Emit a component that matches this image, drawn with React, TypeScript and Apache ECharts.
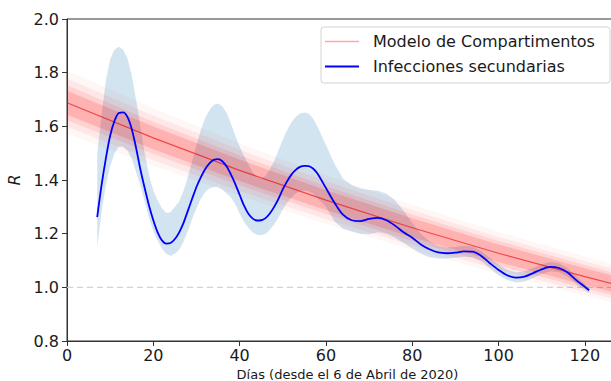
import React, { useEffect, useRef } from "react";
import * as echarts from "echarts";

// ---- Data ----
const days = [
  7, 8, 9, 10, 11, 12, 13, 14, 15, 16, 17, 18, 19, 20, 21, 22, 23, 24, 25, 26,
  27, 28, 29, 30, 31, 32, 33, 34, 35, 36, 37, 38, 39, 40, 41, 42, 43, 44, 45, 46,
  47, 48, 49, 50, 51, 52, 53, 54, 55, 56, 57, 58,
  60, 62, 64, 66, 68, 70, 72, 74, 76, 78, 80, 82, 84, 86, 88, 90, 92, 94, 96, 98,
  100, 102, 104, 106, 108, 110, 112, 114, 116, 118, 120, 121,
];

const secondary = [
  1.262, 1.38, 1.48, 1.565, 1.62, 1.65, 1.652, 1.635, 1.59, 1.52,
  1.44, 1.37, 1.305, 1.25, 1.205, 1.175, 1.163, 1.165, 1.18, 1.205,
  1.24, 1.285, 1.33, 1.374, 1.41, 1.44, 1.462, 1.475, 1.478, 1.47,
  1.45, 1.42, 1.385, 1.345, 1.305, 1.275, 1.257, 1.249, 1.25, 1.258,
  1.275, 1.3, 1.33, 1.365, 1.395, 1.42, 1.438, 1.449, 1.453, 1.452,
  1.443, 1.425,
  1.37, 1.315, 1.27, 1.25, 1.247, 1.255, 1.259, 1.25, 1.23, 1.205,
  1.185, 1.16, 1.142, 1.13, 1.127, 1.129, 1.134, 1.133, 1.117, 1.09,
  1.065, 1.045, 1.036, 1.04, 1.053, 1.067, 1.076, 1.072, 1.055, 1.027,
  1.002, 0.989,
];

const bandUpper = [
  1.5, 1.64, 1.77, 1.85, 1.885, 1.897, 1.885, 1.855, 1.79, 1.7,
  1.6, 1.5, 1.42, 1.36, 1.325, 1.295, 1.277, 1.28, 1.3, 1.32,
  1.36, 1.41, 1.47, 1.53, 1.585, 1.63, 1.66, 1.68, 1.685, 1.675,
  1.65, 1.61, 1.565, 1.525, 1.49, 1.46, 1.43, 1.41, 1.405, 1.415,
  1.44, 1.47, 1.51, 1.55, 1.585, 1.615, 1.635, 1.648, 1.652, 1.648,
  1.63, 1.6,
  1.53, 1.46, 1.405, 1.38, 1.368, 1.363, 1.36, 1.35, 1.325, 1.285,
  1.24, 1.2, 1.172, 1.155, 1.148, 1.15, 1.155, 1.152, 1.135, 1.11,
  1.085, 1.065, 1.055, 1.06, 1.072, 1.086, 1.094, 1.09, 1.072, 1.042,
  1.012, 0.999,
];

const bandLower = [
  1.15, 1.28, 1.38, 1.45, 1.5, 1.525, 1.525, 1.51, 1.48, 1.43,
  1.38, 1.32, 1.26, 1.21, 1.175, 1.145, 1.125, 1.118, 1.125, 1.14,
  1.17, 1.21, 1.255, 1.295, 1.33, 1.355, 1.368, 1.374, 1.374, 1.365,
  1.35, 1.335, 1.31, 1.275, 1.245, 1.222, 1.205, 1.196, 1.194, 1.2,
  1.215, 1.235, 1.26, 1.29, 1.315, 1.335, 1.35, 1.358, 1.36, 1.358,
  1.35, 1.335,
  1.3, 1.245, 1.218, 1.208, 1.2, 1.198, 1.205, 1.2, 1.185, 1.165,
  1.145, 1.125, 1.112, 1.107, 1.107, 1.11, 1.114, 1.112, 1.097, 1.07,
  1.045, 1.027, 1.018, 1.022, 1.035, 1.05, 1.06, 1.056, 1.04, 1.012,
  0.99, 0.979,
];

// Compartment-model ensemble (fan of curves), read as nested envelopes
const modelDays = [0, 20, 40, 60, 80, 100, 120, 130];
const modelCentral = [1.688, 1.557, 1.436, 1.325, 1.222, 1.127, 1.04, 0.999];
const modelDenseUpper = [1.733, 1.599, 1.476, 1.362, 1.257, 1.16, 1.071, 1.029];
const modelDenseLower = [1.643, 1.515, 1.396, 1.288, 1.187, 1.094, 1.009, 0.969];
const modelMidUpper = [1.753, 1.617, 1.492, 1.377, 1.271, 1.173, 1.083, 1.041];
const modelMidLower = [1.623, 1.497, 1.38, 1.273, 1.173, 1.081, 0.997, 0.957];
const modelWideUpper = [1.778, 1.64, 1.513, 1.396, 1.288, 1.188, 1.097, 1.054];
const modelWideLower = [1.598, 1.474, 1.359, 1.254, 1.156, 1.066, 0.983, 0.944];
const modelOuterUpper = [1.808, 1.667, 1.536, 1.418, 1.308, 1.207, 1.115, 1.071];
const modelOuterLower = [1.573, 1.452, 1.34, 1.236, 1.14, 1.051, 0.969, 0.93];

const referenceLevel = 1.0;
const legendLabels = ["Modelo de Compartimentos", "Infecciones secundarias"];
const xAxisTitle = "Días (desde el 6 de Abril de 2020)";
const yAxisTitle = "R";

const FONT = "'DejaVu Sans', 'Noto Sans', sans-serif";

function bandSeries(xs: number[], lo: number[], hi: number[], fill: string, z: number) {
  return {
    type: "custom",
    coordinateSystem: "cartesian2d",
    silent: true,
    clip: true,
    z,
    data: [[xs[0], lo[0]]],
    renderItem: (_params: any, api: any) => {
      const pts: number[][] = [];
      for (let i = 0; i < xs.length; i++) pts.push(api.coord([xs[i], hi[i]]));
      for (let i = xs.length - 1; i >= 0; i--) pts.push(api.coord([xs[i], lo[i]]));
      return { type: "polygon", shape: { points: pts }, style: { fill, stroke: null } };
    },
  };
}

export default function App() {
  const ref = useRef<HTMLDivElement>(null);

  useEffect(() => {
    if (!ref.current) return;
    const chart = echarts.init(ref.current, null, { renderer: "svg" });

    const axisColor = "#333";
    const textColor = "#1a1a1a";

    chart.setOption({
      animation: false,
      backgroundColor: "#ffffff",
      grid: {
        left: 67,
        top: 19,
        right: -17,
        bottom: 40,
        containLabel: false,
        outerBoundsMode: "none",
        show: true,
        borderColor: axisColor,
        borderWidth: 1,
        backgroundColor: "transparent",
      },
      xAxis: {
        type: "value",
        min: 0,
        max: 130,
        interval: 20,
        axisLine: { show: true, onZero: false, lineStyle: { color: axisColor, width: 1 } },
        axisTick: { show: true, length: 5, lineStyle: { color: axisColor } },
        axisLabel: {
          fontSize: 16,
          fontFamily: FONT,
          color: textColor,
          margin: 6,
          showMaxLabel: false,
        },
        splitLine: { show: false },
        name: xAxisTitle,
        nameLocation: "middle",
        nameGap: 26,
        nameTextStyle: { fontSize: 13, fontFamily: FONT, color: textColor },
      },
      yAxis: {
        type: "value",
        min: 0.8,
        max: 2.0,
        interval: 0.2,
        axisLine: { show: true, onZero: false, lineStyle: { color: axisColor, width: 1 } },
        axisTick: { show: true, length: 5, lineStyle: { color: axisColor } },
        axisLabel: {
          fontSize: 16,
          fontFamily: FONT,
          color: textColor,
          margin: 8,
          formatter: (v: number) => v.toFixed(1),
        },
        splitLine: { show: false },
        name: yAxisTitle,
        nameLocation: "middle",
        nameRotate: 90,
        nameGap: 42,
        nameTextStyle: { fontSize: 16, fontFamily: FONT, fontStyle: "italic", color: textColor },
      },
      series: [
        {
          type: "line",
          silent: true,
          data: [
            [0, referenceLevel],
            [130, referenceLevel],
          ],
          showSymbol: false,
          lineStyle: { color: "#d2d2d2", width: 1.3, type: [6, 4] },
          z: 1,
        },
        bandSeries(days, bandLower, bandUpper, "rgba(31,119,180,0.2)", 2),
        bandSeries(modelDays, modelOuterLower, modelOuterUpper, "rgba(255,0,0,0.035)", 3),
        bandSeries(modelDays, modelWideLower, modelWideUpper, "rgba(255,0,0,0.06)", 3),
        bandSeries(modelDays, modelMidLower, modelMidUpper, "rgba(255,0,0,0.09)", 3),
        bandSeries(modelDays, modelDenseLower, modelDenseUpper, "rgba(255,0,0,0.15)", 3),
        {
          type: "line",
          name: legendLabels[0],
          silent: true,
          data: modelDays.map((d, i) => [d, modelCentral[i]]),
          showSymbol: false,
          lineStyle: { color: "rgba(235,0,0,0.6)", width: 1.2 },
          z: 4,
        },
        {
          type: "line",
          name: legendLabels[1],
          silent: true,
          data: days.map((d, i) => [d, secondary[i]]),
          showSymbol: false,
          smooth: 0.3,
          lineStyle: { color: "#0000ff", width: 1.8 },
          z: 5,
        },
      ],
      graphic: [
        {
          type: "rect",
          z: 100,
          shape: { x: 321, y: 27, width: 289, height: 56, r: 3 },
          style: { fill: "rgba(255,255,255,0.85)", stroke: "#d4d4d4", lineWidth: 1 },
        },
        {
          type: "line",
          z: 101,
          shape: { x1: 325, y1: 41.5, x2: 359, y2: 41.5 },
          style: { stroke: "rgba(255,0,0,0.35)", lineWidth: 1.5 },
        },
        {
          type: "text",
          z: 101,
          x: 373,
          y: 41.5,
          style: {
            text: legendLabels[0],
            fontSize: 16,
            fontFamily: FONT,
            fill: textColor,
            verticalAlign: "middle",
            align: "left",
          },
        },
        {
          type: "line",
          z: 101,
          shape: { x1: 325, y1: 66.5, x2: 359, y2: 66.5 },
          style: { stroke: "#0000ff", lineWidth: 1.8 },
        },
        {
          type: "text",
          z: 101,
          x: 373,
          y: 66.5,
          style: {
            text: legendLabels[1],
            fontSize: 16,
            fontFamily: FONT,
            fill: textColor,
            verticalAlign: "middle",
            align: "left",
          },
        },
      ],
    });

    return () => chart.dispose();
  }, []);

  return (
    <div
      ref={ref}
      style={{ width: 611, height: 381, position: "absolute", left: 0, top: 0 }}
    />
  );
}
